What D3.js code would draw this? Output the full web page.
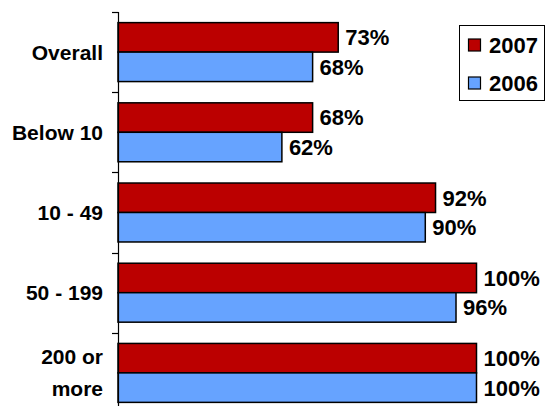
<!DOCTYPE html>
<html><head><meta charset="utf-8">
<script src="https://cdn.jsdelivr.net/npm/d3@7"></script>
<style>body{margin:0;background:#fff}svg{display:block}text{font-family:"Liberation Sans",Arial,sans-serif;font-weight:bold;fill:#000}</style>
</head><body>
<script>
const categories = ["Overall", "Below 10", "10 - 49", "50 - 199", "200 or more"];
const categoryLines = [["Overall"], ["Below 10"], ["10 - 49"], ["50 - 199"], ["200 or", "more"]];
const values2007 = [73, 68, 92, 100, 100];
const values2006 = [68, 62, 90, 96, 100];
const seriesNames = ["2007", "2006"];
const seriesColors = ["#BB0000", "#66A3FF"];

const W = 546, H = 406;
const svg = d3.select("body").append("svg").attr("width", W).attr("height", H);

const y = d3.scaleBand().domain(categories).range([12, 413]).paddingInner(0.265).paddingOuter(0.1325);
const x = d3.scaleLinear().domain([30, 100]).range([118, 476.5]);
const sub = d3.scaleBand().domain(seriesNames).range([0, y.bandwidth()]);

const series = [values2007, values2006];
const step = y.step();
const bandStart = 12;

// bars
series.forEach((vals, si) => {
  svg.append("g").selectAll("rect").data(categories).join("rect")
    .attr("x", x(30))
    .attr("y", c => y(c) + sub(seriesNames[si]))
    .attr("width", (c, i) => x(vals[i]) - x(30))
    .attr("height", sub.bandwidth())
    .attr("fill", seriesColors[si])
    .attr("stroke", "#000").attr("stroke-width", 1.5);
  svg.append("g").selectAll("text").data(categories).join("text")
    .attr("x", (c, i) => x(vals[i]) + 7)
    .attr("y", c => y(c) + sub(seriesNames[si]) + sub.bandwidth() / 2)
    .attr("dy", "0.36em")
    .attr("font-size", 22)
    .text((c, i) => vals[i] + "%");
});

// axis line and ticks at category boundaries
svg.append("line").attr("x1", 118.5).attr("x2", 118.5).attr("y1", 12).attr("y2", 413)
  .attr("stroke", "#000").attr("stroke-width", 1.2);
svg.append("g").selectAll("line").data(d3.range(categories.length + 1)).join("line")
  .attr("x1", 112).attr("x2", 118.5)
  .attr("y1", i => Math.round(bandStart + i * step) + 0.5)
  .attr("y2", i => Math.round(bandStart + i * step) + 0.5)
  .attr("stroke", "#000").attr("stroke-width", 1.2);

// category labels
categories.forEach((c, i) => {
  const lines = categoryLines[i];
  const cy = y(c) + y.bandwidth() / 2;
  const lh = 32;
  lines.forEach((ln, k) => {
    svg.append("text").attr("x", 103).attr("text-anchor", "end")
      .attr("y", cy + (k - (lines.length - 1) / 2) * lh)
      .attr("dy", "0.36em").attr("font-size", 21).text(ln);
  });
});

// legend
const lg = svg.append("g");
lg.append("rect").attr("x", 459.5).attr("y", 25.5).attr("width", 85).attr("height", 75)
  .attr("fill", "#fff").attr("stroke", "#000").attr("stroke-width", 1);
seriesNames.forEach((s, i) => {
  const cy = 45.5 + i * 38;
  lg.append("rect").attr("x", 468.5).attr("y", cy - 6.5).attr("width", 12).attr("height", 12)
    .attr("fill", seriesColors[i]).attr("stroke", "#000").attr("stroke-width", 1.2);
  lg.append("text").attr("x", 489).attr("y", cy).attr("dy", "0.36em").attr("font-size", 22).text(s);
});
</script>
</body></html>
